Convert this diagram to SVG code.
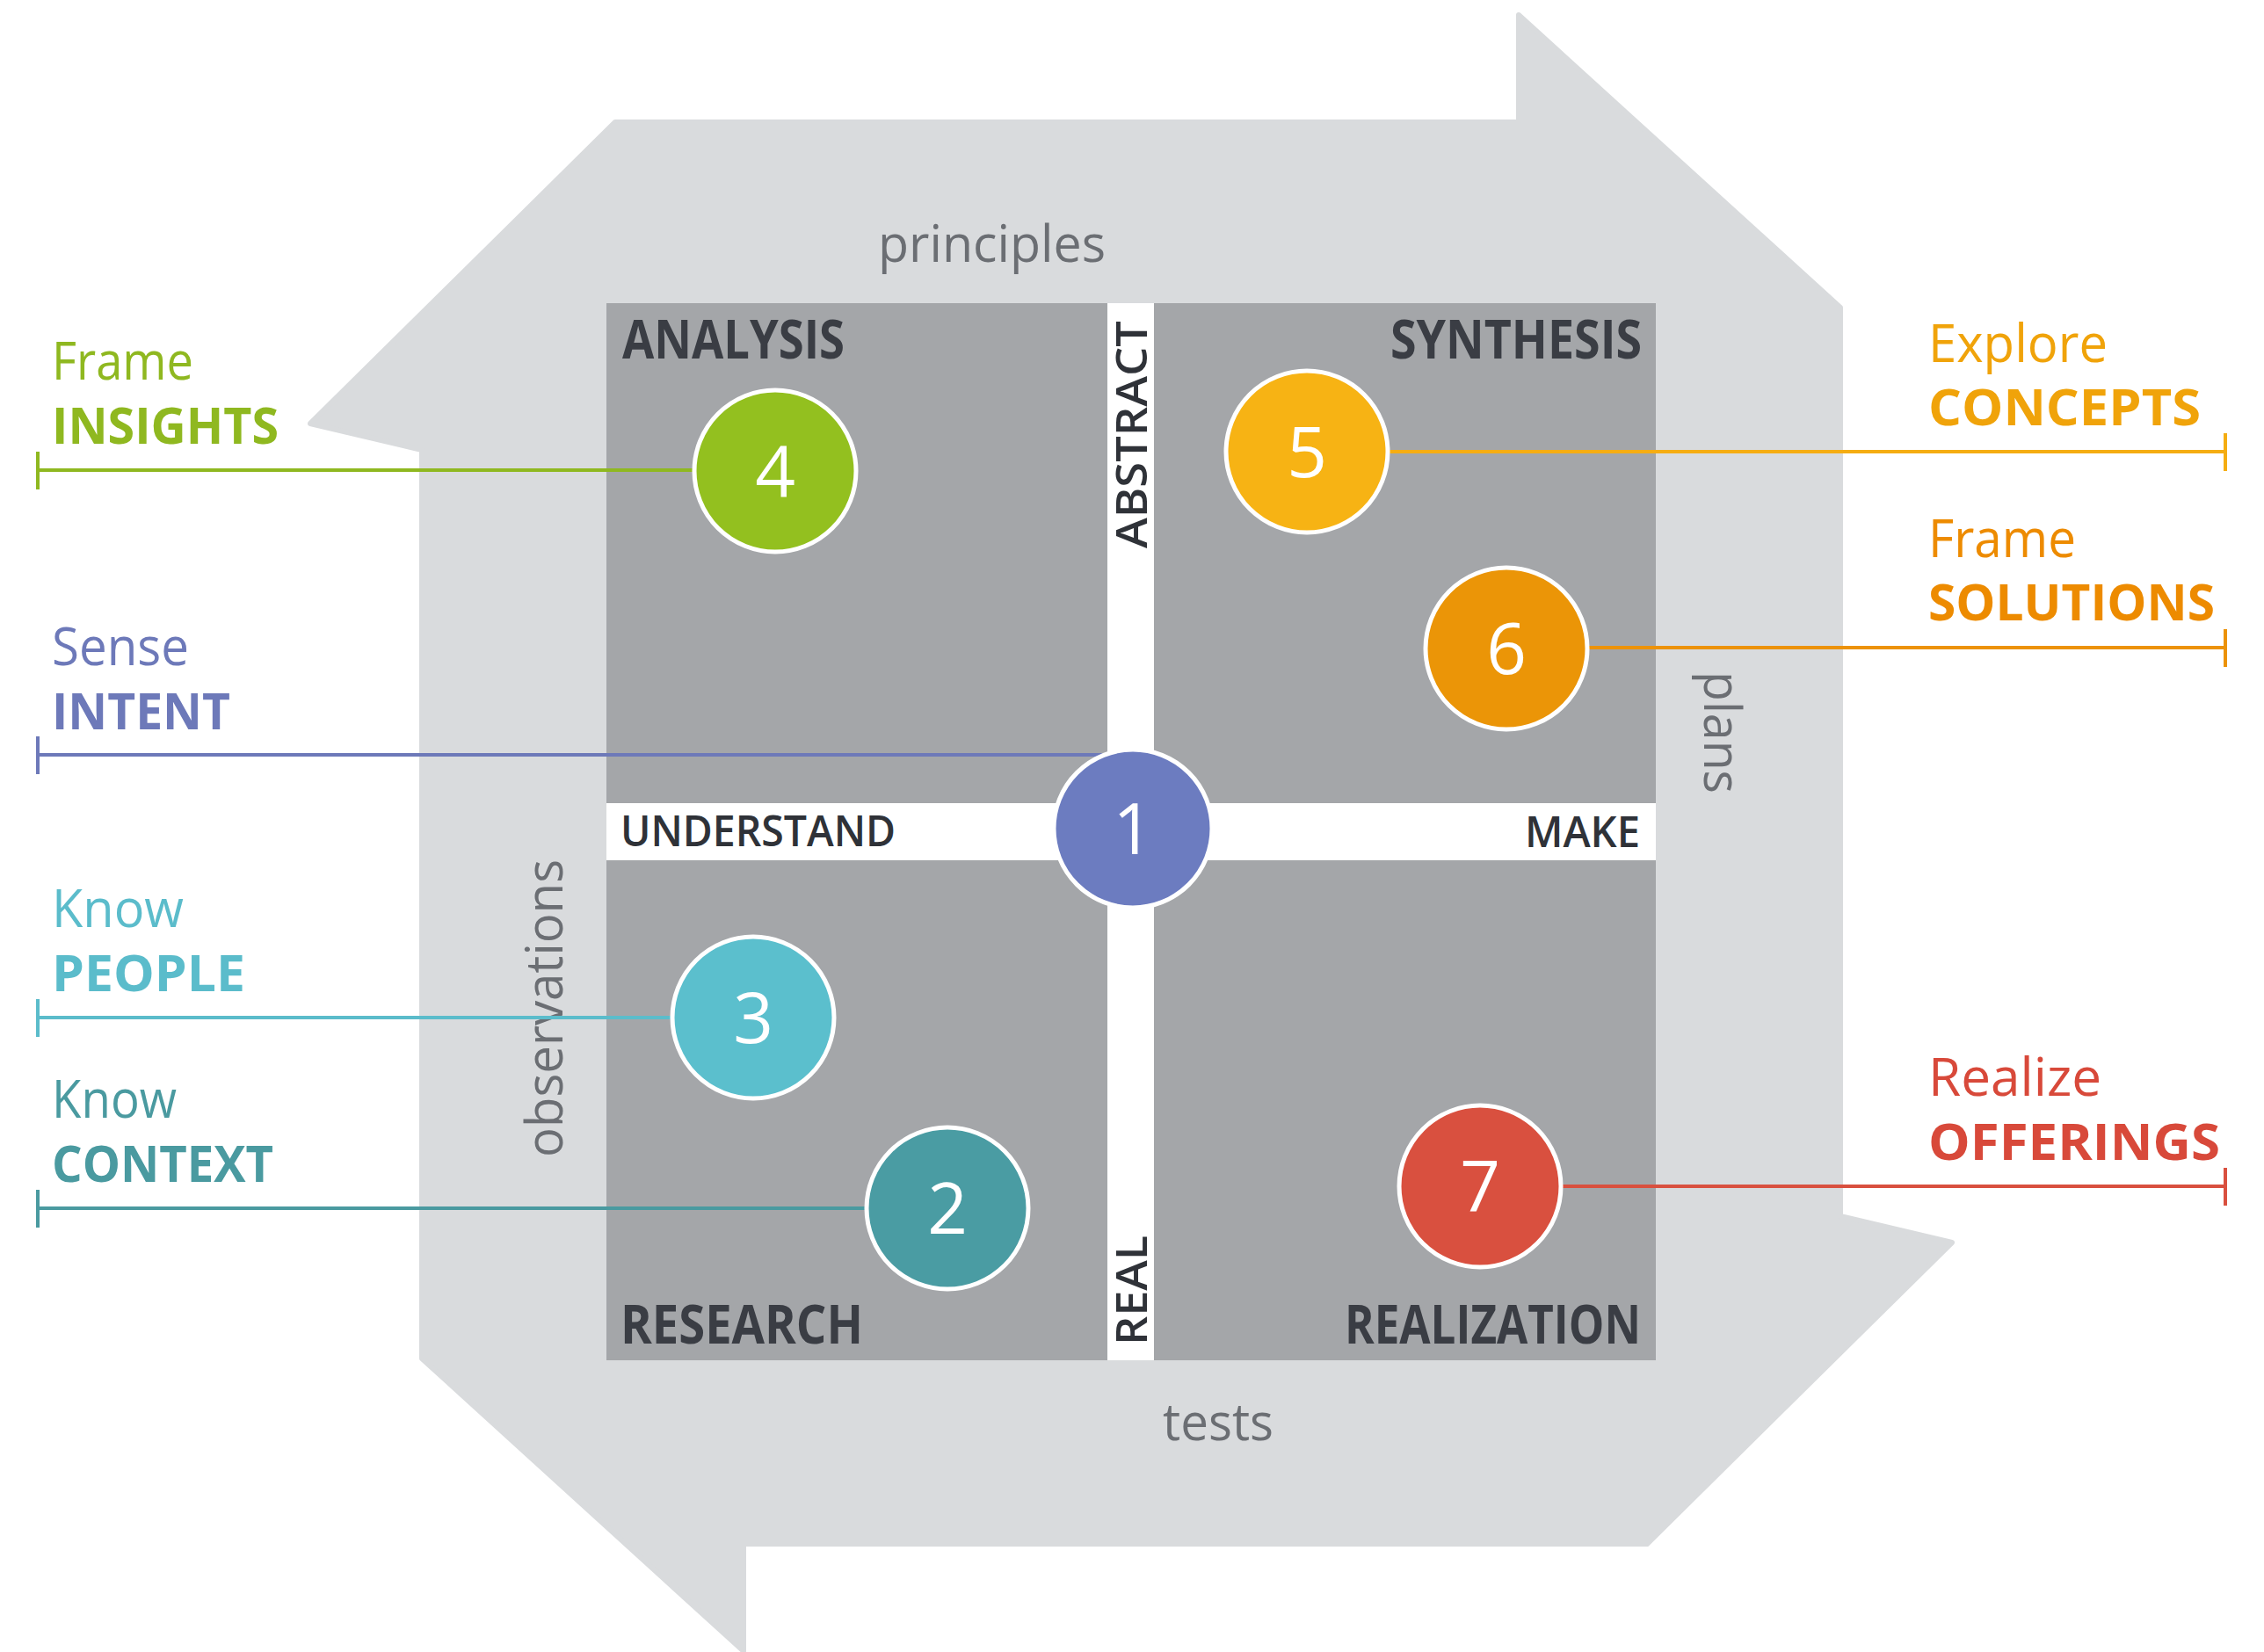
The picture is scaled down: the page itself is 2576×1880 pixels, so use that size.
<svg xmlns="http://www.w3.org/2000/svg" width="2576" height="1880" viewBox="0 0 2576 1880">
<style>
.band{fill:#d9dbdd;stroke:#d9dbdd;stroke-width:6;stroke-linejoin:round}
.quad{fill:#a4a6a9}
.axis{font-family:"Open Sans","Noto Sans",sans-serif;font-weight:400;font-size:58px;fill:#6b6e73}
.qt{font-family:"Open Sans","Noto Sans",sans-serif;font-weight:700;font-size:60px;fill:#3a3d44}
.mid{font-family:"Open Sans","Noto Sans",sans-serif;font-weight:600;font-size:48px;fill:#2f3238}
.num{font-family:"Open Sans","Noto Sans",sans-serif;font-weight:400;font-size:80px;fill:#ffffff;text-anchor:middle}
.lt{font-family:"Open Sans","Noto Sans",sans-serif;font-weight:400;font-size:60px}
.bd{font-family:"Open Sans","Noto Sans",sans-serif;font-weight:700;font-size:58px}
.node circle{stroke:#ffffff;stroke-width:5}
.conn line{stroke-width:4;fill:none}
</style>

<g id="band">
<polygon class="band" points="353,482 700,139 1728,139 1728,17 2094,350 2094,1384 2221,1414 1874,1757 846,1757 846,1879 480,1546 480,512"/>
</g>

<g id="quadrants">
<rect x="690" y="345" width="1194" height="1203" fill="#ffffff"/>
<rect class="quad" x="690" y="345" width="570" height="569"/>
<rect class="quad" x="1313" y="345" width="571" height="569"/>
<rect class="quad" x="690" y="979" width="570" height="569"/>
<rect class="quad" x="1313" y="979" width="571" height="569"/>
<text class="qt" x="708" y="408" textLength="253" lengthAdjust="spacingAndGlyphs">ANALYSIS</text>
<text class="qt" x="1582" y="408" textLength="286" lengthAdjust="spacingAndGlyphs">SYNTHESIS</text>
<text class="qt" x="706" y="1529" textLength="276" lengthAdjust="spacingAndGlyphs">RESEARCH</text>
<text class="qt" x="1530" y="1529" textLength="337" lengthAdjust="spacingAndGlyphs">REALIZATION</text>
<text class="mid" x="706" y="963" textLength="313" lengthAdjust="spacingAndGlyphs">UNDERSTAND</text>
<text class="mid" x="1735" y="964" textLength="131" lengthAdjust="spacingAndGlyphs">MAKE</text>
<text class="mid" x="1305" y="624" transform="rotate(-90 1305 624)" textLength="259" lengthAdjust="spacingAndGlyphs">ABSTRACT</text>
<text class="mid" x="1305" y="1531" transform="rotate(-90 1305 1531)" textLength="125" lengthAdjust="spacingAndGlyphs">REAL</text>
</g>

<g id="axis-labels">
<text class="axis" x="999" y="298" textLength="259" lengthAdjust="spacingAndGlyphs">principles</text>
<text class="axis" x="1323" y="1639" textLength="126" lengthAdjust="spacingAndGlyphs">tests</text>
<text class="axis" x="640" y="1317" transform="rotate(-90 640 1317)" textLength="339" lengthAdjust="spacingAndGlyphs">observations</text>
<text class="axis" x="1939" y="764" transform="rotate(90 1939 764)" textLength="139" lengthAdjust="spacingAndGlyphs">plans</text>
</g>

<g id="connectors" class="conn">
<line x1="43" y1="535" x2="882" y2="535" stroke="#8fb820"/>
<line x1="43" y1="514" x2="43" y2="557" stroke="#8fb820"/>
<line x1="43" y1="859" x2="1260" y2="859" stroke="#6d79b9"/>
<line x1="43" y1="838" x2="43" y2="881" stroke="#6d79b9"/>
<line x1="43" y1="1158" x2="857" y2="1158" stroke="#5bbccb"/>
<line x1="43" y1="1137" x2="43" y2="1180" stroke="#5bbccb"/>
<line x1="43" y1="1375" x2="1078" y2="1375" stroke="#4a9aa0"/>
<line x1="43" y1="1354" x2="43" y2="1397" stroke="#4a9aa0"/>
<line x1="1487" y1="514" x2="2532" y2="514" stroke="#f5ad12"/>
<line x1="2532" y1="493" x2="2532" y2="536" stroke="#f5ad12"/>
<line x1="1714" y1="737" x2="2532" y2="737" stroke="#ec9208"/>
<line x1="2532" y1="716" x2="2532" y2="759" stroke="#ec9208"/>
<line x1="1684" y1="1350" x2="2532" y2="1350" stroke="#d9503f"/>
<line x1="2532" y1="1329" x2="2532" y2="1372" stroke="#d9503f"/>
</g>

<g id="node-1" class="node"><circle cx="1289" cy="943" r="90" fill="#6c7cc0"/><text class="num" x="1289" y="972">1</text></g>
<g id="node-2" class="node"><circle cx="1078" cy="1375" r="92" fill="#4a9ca3"/><text class="num" x="1078" y="1404">2</text></g>
<g id="node-3" class="node"><circle cx="857" cy="1158" r="92" fill="#5bbfcd"/><text class="num" x="857" y="1187">3</text></g>
<g id="node-4" class="node"><circle cx="882" cy="536" r="92" fill="#93c01f"/><text class="num" x="882" y="565">4</text></g>
<g id="node-5" class="node"><circle cx="1487" cy="514" r="92" fill="#f7b314"/><text class="num" x="1487" y="543">5</text></g>
<g id="node-6" class="node"><circle cx="1714" cy="738" r="92" fill="#eb9507"/><text class="num" x="1714" y="767">6</text></g>
<g id="node-7" class="node"><circle cx="1684" cy="1350" r="92" fill="#d9503f"/><text class="num" x="1684" y="1379">7</text></g>

<g id="label-4" fill="#8fb820">
<text class="lt" x="59" y="432" textLength="161" lengthAdjust="spacingAndGlyphs">Frame</text>
<text class="bd" x="59" y="505" textLength="258" lengthAdjust="spacingAndGlyphs">INSIGHTS</text>
</g>
<g id="label-1" fill="#6d79b9">
<text class="lt" x="59" y="757" textLength="156" lengthAdjust="spacingAndGlyphs">Sense</text>
<text class="bd" x="59" y="830" textLength="203" lengthAdjust="spacingAndGlyphs">INTENT</text>
</g>
<g id="label-3" fill="#5bbccb">
<text class="lt" x="59" y="1055" textLength="150" lengthAdjust="spacingAndGlyphs">Know</text>
<text class="bd" x="59" y="1128" textLength="220" lengthAdjust="spacingAndGlyphs">PEOPLE</text>
</g>
<g id="label-2" fill="#4a9aa0">
<text class="lt" x="59" y="1272" textLength="142" lengthAdjust="spacingAndGlyphs">Know</text>
<text class="bd" x="59" y="1345" textLength="252" lengthAdjust="spacingAndGlyphs">CONTEXT</text>
</g>
<g id="label-5" fill="#f0a30a">
<text class="lt" x="2194" y="412" textLength="204" lengthAdjust="spacingAndGlyphs">Explore</text>
<text class="bd" x="2194" y="484" textLength="310" lengthAdjust="spacingAndGlyphs">CONCEPTS</text>
</g>
<g id="label-6" fill="#ed8b00">
<text class="lt" x="2194" y="634" textLength="168" lengthAdjust="spacingAndGlyphs">Frame</text>
<text class="bd" x="2194" y="706" textLength="326" lengthAdjust="spacingAndGlyphs">SOLUTIONS</text>
</g>
<g id="label-7" fill="#d8493a">
<text class="lt" x="2194" y="1247" textLength="197" lengthAdjust="spacingAndGlyphs">Realize</text>
<text class="bd" x="2194" y="1320" textLength="332" lengthAdjust="spacingAndGlyphs">OFFERINGS</text>
</g>
</svg>
